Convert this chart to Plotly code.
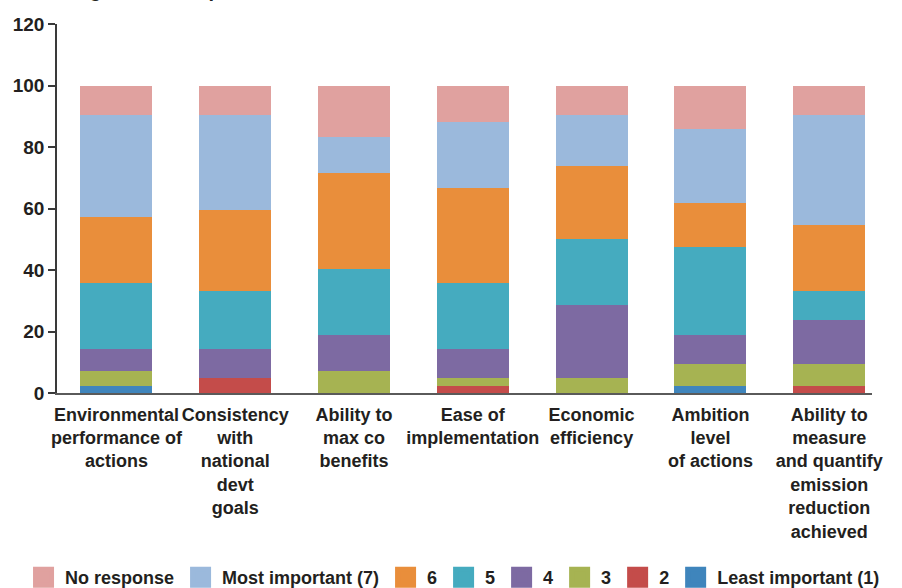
import plotly.graph_objects as go

categories = [
    "Environmental<br>performance of<br>actions",
    "Consistency<br>with<br>national<br>devt<br>goals",
    "Ability to<br>max co<br>benefits",
    "Ease of<br>implementation",
    "Economic<br>efficiency",
    "Ambition<br>level<br>of actions",
    "Ability to<br>measure<br>and quantify<br>emission<br>reduction<br>achieved",
]

least_important_1 = [2.4, 0, 0, 0, 0, 2.4, 0]
rank_2 = [0, 4.8, 0, 2.4, 0, 0, 2.4]
rank_3 = [4.8, 0, 7.1, 2.4, 4.8, 7.1, 7.1]
rank_4 = [7.1, 9.5, 11.9, 9.5, 23.8, 9.5, 14.3]
rank_5 = [21.4, 19.0, 21.4, 21.4, 21.4, 28.6, 9.5]
rank_6 = [21.4, 26.2, 31.0, 31.0, 23.8, 14.3, 21.4]
most_important_7 = [33.3, 31.0, 11.9, 21.4, 16.7, 23.8, 35.7]
no_response = [9.5, 9.5, 16.7, 11.9, 9.5, 14.3, 9.5]

series_names = ["Least important (1)", "2", "3", "4", "5", "6",
                "Most important (7)", "No response"]
series_values = [least_important_1, rank_2, rank_3, rank_4, rank_5, rank_6,
                 most_important_7, no_response]
series_colors = ["#3F85BC", "#C44C4A", "#A6B352", "#7D6AA2", "#45ABBF",
                 "#E98E3B", "#9BB9DC", "#E0A19F"]

y_ticks = [0, 20, 40, 60, 80, 100, 120]

FONT = "Liberation Sans, Arial, sans-serif"
TXT = "#231F20"

fig = go.Figure()
for name, vals, col in zip(series_names, series_values, series_colors):
    fig.add_trace(go.Bar(
        x=categories, y=vals, name=name, marker=dict(color=col, line=dict(width=0)),
        showlegend=False, legendgroup=name,
    ))

# legend entries (left to right: No response ... Least important)
for name, col in reversed(list(zip(series_names, series_colors))):
    fig.add_trace(go.Scatter(
        x=[None], y=[None], mode="markers", name=name, legendgroup=name,
        marker=dict(symbol="square", size=16, color=col, line=dict(width=5, color=col)),
    ))

fig.update_layout(
    barmode="stack",
    bargap=0.394,
    width=902, height=588,
    margin=dict(l=57, r=30, t=24, b=195, autoexpand=False),
    plot_bgcolor="white", paper_bgcolor="white",
    font=dict(family=FONT, size=18, color=TXT, weight="bold"),
    showlegend=True,
    legend=dict(
        orientation="h", traceorder="normal", itemsizing="trace", itemwidth=33,
        xref="paper", yref="paper",
        x=-0.0429, y=-0.55, xanchor="left", yanchor="bottom",
        font=dict(family=FONT, size=18, color=TXT, weight="bold"),
        bgcolor="rgba(0,0,0,0)", itemclick=False,
    ),
    xaxis=dict(
        type="category", categoryorder="array", categoryarray=categories,
        range=[-0.5, 6.36], automargin=False,
        showline=True, linecolor="#5a5a5a", linewidth=2,
        ticks="", showgrid=False, zeroline=False,
        tickfont=dict(family=FONT, size=18, color=TXT, weight="bold"),
        tickangle=0, ticklabelstandoff=4,
    ),
    yaxis=dict(
        range=[0, 120], tickvals=y_ticks, automargin=False,
        showline=True, linecolor="#3a3a3a", linewidth=1.5,
        ticks="outside", ticklen=7, tickwidth=1.5, tickcolor="#3a3a3a",
        showgrid=False, zeroline=False,
        tickfont=dict(family=FONT, size=19, color=TXT, weight="bold"),
    ),
    annotations=[dict(
        text="Percentage of the responses", xref="paper", yref="paper",
        x=-0.0663, y=1.0575, xanchor="left", yanchor="bottom",
        showarrow=False,
        font=dict(family=FONT, size=20, color=TXT, weight="bold"),
    )],
)

fig.write_html("out.html")
